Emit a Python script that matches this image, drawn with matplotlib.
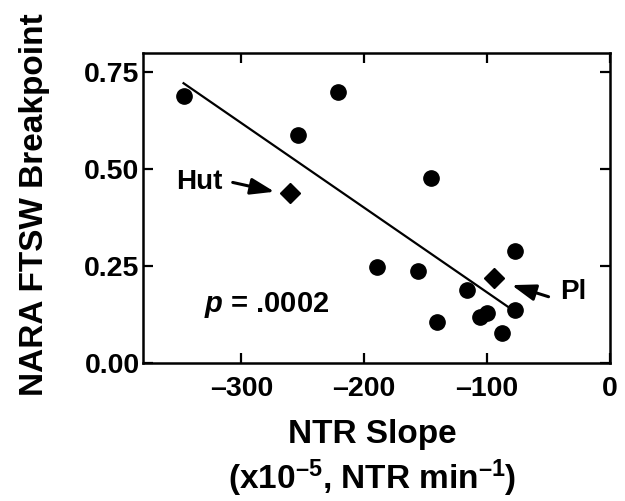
import numpy as np
import matplotlib
matplotlib.use('Agg')
import matplotlib.pyplot as plt

plt.rcParams['font.family'] = ['Liberation Sans', 'DejaVu Sans']
plt.rcParams['font.weight'] = 'bold'
plt.rcParams['mathtext.fontset'] = 'custom'
plt.rcParams['mathtext.rm'] = 'Liberation Sans:bold'
plt.rcParams['mathtext.it'] = 'Liberation Sans:bold:italic'
plt.rcParams['mathtext.bf'] = 'Liberation Sans:bold'

# NTR slope (x10^-5) vs NARA FTSW breakpoint, circles = other genotypes
ntr_slope = [-347, -221, -254, -146, -190, -156, -77, -116, -77, -141, -106, -100, -88]
ftsw_bp = [0.689, 0.699, 0.588, 0.478, 0.248, 0.238, 0.288, 0.188, 0.138, 0.107, 0.119, 0.128, 0.078]

# highlighted genotypes (diamonds)
special_names = ['Hut', 'Pl']
special_slope = [-260, -94]
special_bp = [0.439, 0.219]

# regression line end points
fit_x = [-347, -83]
fit_y = [0.722, 0.145]

p_label = '.0002'

fig = plt.figure(figsize=(6.25, 5.01), dpi=100)
ax = fig.add_axes([143 / 625, 1 - 363 / 501, (610 - 143) / 625, (363 - 53) / 501])

ax.plot(fit_x, fit_y, color='black', linewidth=1.6, zorder=2)
ax.plot(ntr_slope, ftsw_bp, 'o', color='black', markersize=11, zorder=3)
ax.plot(special_slope, special_bp, 'D', color='black', markersize=10.5, zorder=3)

# arrows pointing at the two highlighted genotypes
arrow_kw = dict(arrowstyle='-|>,head_length=1.45,head_width=0.5', color='black',
                lw=2.2, shrinkA=0, shrinkB=0)
ax.annotate('', xy=(-273, 0.442), xytext=(-307, 0.466), arrowprops=arrow_kw)
ax.annotate('', xy=(-80, 0.201), xytext=(-50, 0.171), arrowprops=arrow_kw)
ax.text(-334, 0.467, special_names[0], fontsize=20, fontweight='bold',
        ha='center', va='center')
ax.text(-30, 0.183, special_names[1], fontsize=20, fontweight='bold',
        ha='center', va='center')
ax.text(-279, 0.132, r'$p$ = ' + p_label, fontsize=21, fontweight='bold',
        ha='center', va='baseline')

ax.set_xlim(-380, 0)
ax.set_ylim(0, 0.8)
ax.set_xticks([-300, -200, -100, 0])
ax.set_yticks([0.0, 0.25, 0.5, 0.75])
ax.set_yticklabels(['0.00', '0.25', '0.50', '0.75'])
ax.set_xticklabels(['\u2013300', '\u2013200', '\u2013100', '0'])

for sp in ax.spines.values():
    sp.set_linewidth(1.8)
ax.tick_params(direction='in', length=7, width=1.6, top=True, right=True,
               labelsize=20.5)
ax.tick_params(axis='x', pad=9.5)
ax.tick_params(axis='y', pad=2.5)
for lab in ax.get_xticklabels() + ax.get_yticklabels():
    lab.set_fontweight('bold')

ax.set_ylabel('NARA FTSW Breakpoint', fontsize=24, fontweight='bold')
ax.yaxis.set_label_coords(-0.2, 0.51)
ax.set_xlabel('NTR Slope\n(x10$^{\u2013 5}$, NTR min$^{\u2013 1}$)', fontsize=24,
              fontweight='bold', linespacing=1.25)
ax.xaxis.set_label_coords(0.49, -0.18)

fig.savefig('out.png', dpi=100)
